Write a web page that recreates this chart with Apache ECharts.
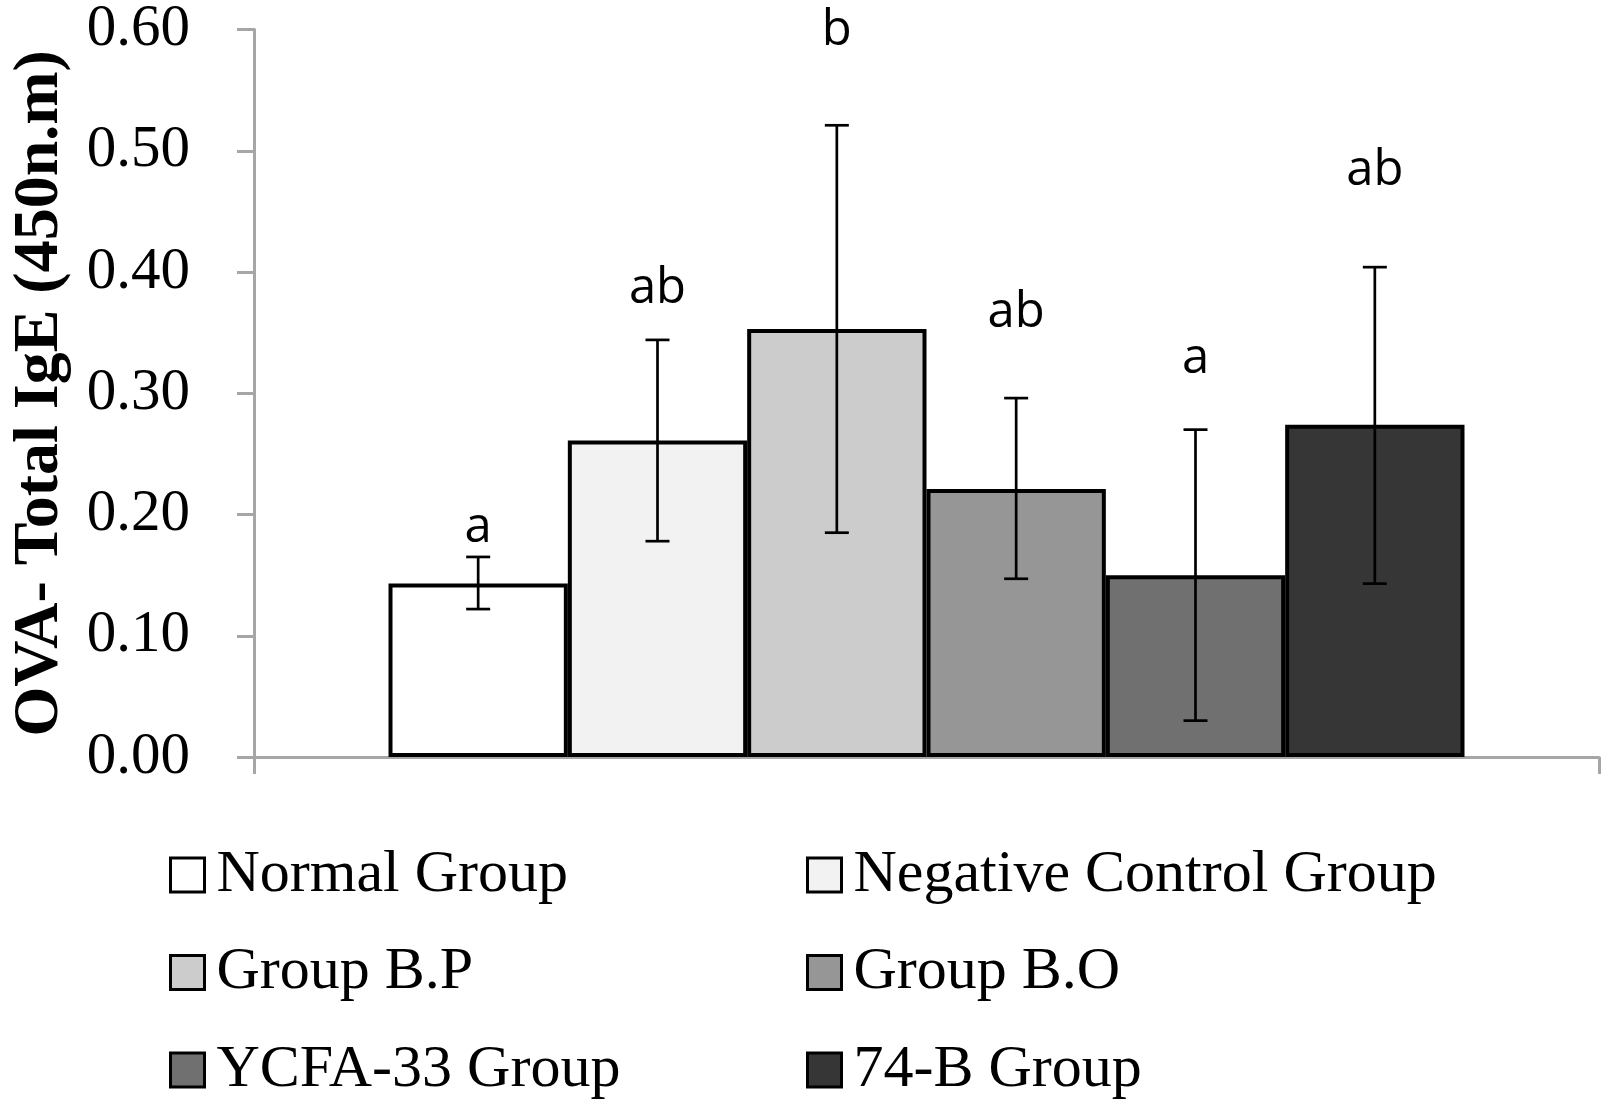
<!DOCTYPE html>
<html>
<head>
<meta charset="utf-8">
<title>OVA- Total IgE</title>
<script src="https://cdn.jsdelivr.net/npm/echarts@6/dist/echarts.min.js"></script>
<style>
  html, body { margin: 0; padding: 0; background: #fff; }
  #main { width: 1605px; height: 1106px; }
</style>
</head>
<body>
<div id="main"></div>
<script>
// groups, one bar each
const groups = ['Normal Group', 'Negative Control Group', 'Group B.P', 'Group B.O', 'YCFA-33 Group', '74-B Group'];
const means = [0.143, 0.261, 0.353, 0.221, 0.150, 0.274];
const errLow = [0.122, 0.178, 0.185, 0.147, 0.030, 0.143];
const errHigh = [0.165, 0.344, 0.521, 0.296, 0.270, 0.404];
// significance letters and the height of their baseline
const letters = ['a', 'ab', 'b', 'ab', 'a', 'ab'];
const letterY = [0.175, 0.372, 0.585, 0.352, 0.314, 0.469];
const fills = ['#ffffff', '#f2f2f2', '#cccccc', '#969696', '#707070', '#363636'];
const yTicks = [0, 0.1, 0.2, 0.3, 0.4, 0.5, 0.6];

const chart = echarts.init(document.getElementById('main'));
const serif = 'Liberation Serif';
const axisGray = '#a6a6a6';

const barSeries = groups.map(function (name, i) {
  return {
    name: name,
    type: 'bar',
    data: [means[i]],
    barGap: '0%',
    barCategoryGap: '20%',
    itemStyle: { color: fills[i], borderColor: '#000', borderWidth: 4 },
    emphasis: { disabled: true },
    z: 2
  };
});

// error bars + letters, placed over each bar of the single category
const errSeries = {
  type: 'custom',
  z: 5,
  silent: true,
  encode: { x: 0, y: [1, 2] },
  data: groups.map(function (g, i) { return [0, errLow[i], errHigh[i], letterY[i]]; }),
  renderItem: function (params, api) {
    const i = params.dataIndex;
    const lo = api.coord([0, api.value(1)]);
    const hi = api.coord([0, api.value(2)]);
    const lab = api.coord([0, api.value(3)]);
    const band = api.size([1, 0])[0];
    const barW = band * 0.8 / groups.length;
    const x = lo[0] - band * 0.4 + (i + 0.5) * barW;
    const cap = 12;
    const st = { stroke: '#000', lineWidth: 2.7 };
    return {
      type: 'group',
      children: [
        { type: 'line', shape: { x1: x, y1: lo[1], x2: x, y2: hi[1] }, style: st },
        { type: 'line', shape: { x1: x - cap, y1: lo[1], x2: x + cap, y2: lo[1] }, style: st },
        { type: 'line', shape: { x1: x - cap, y1: hi[1], x2: x + cap, y2: hi[1] }, style: st },
        {
          type: 'text',
          style: {
            text: letters[i], x: x, y: lab[1] - 17,
            align: 'center', verticalAlign: 'middle',
            fill: '#000', font: '49px "Open Sans"'
          }
        }
      ]
    };
  }
};

const legendText = { fontFamily: serif, fontSize: 60, lineHeight: 60, color: '#000', padding: [0, 0, 0, 7] };

function legendCol(names, left) {
  return {
    data: names,
    orient: 'vertical', left: left, top: 845, height: 261,
    padding: 0,
    itemWidth: 34, itemHeight: 34, itemGap: 37.5,
    icon: 'rect', itemStyle: { borderWidth: 3 },
    textStyle: legendText, selectedMode: false
  };
}

const option = {
  animation: false,
  backgroundColor: '#fff',
  grid: { left: 248, right: 6, top: 25, bottom: 349 },
  legend: [
    legendCol([groups[0], groups[2], groups[4]], 169),
    legendCol([groups[1], groups[3], groups[5]], 806)
  ],
  xAxis: {
    type: 'category',
    data: [''],
    axisLine: { lineStyle: { color: axisGray, width: 3 } },
    axisTick: { show: true, length: 17, lineStyle: { color: axisGray, width: 3 } },
    axisLabel: { show: false }
  },
  yAxis: {
    type: 'value',
    min: yTicks[0],
    max: yTicks[yTicks.length - 1],
    interval: 0.1,
    name: 'OVA- Total IgE (450n.m)',
    nameLocation: 'middle',
    nameGap: 182,
    nameTextStyle: { fontFamily: serif, fontWeight: 'bold', fontSize: 64, color: '#000' },
    axisLine: { show: true, lineStyle: { color: axisGray, width: 3 } },
    axisTick: { show: true, length: 17, lineStyle: { color: axisGray, width: 3 } },
    splitLine: { show: false },
    axisLabel: {
      margin: 64,
      fontFamily: serif, fontSize: 59, color: '#000',
      formatter: function (v) { return v.toFixed(2); }
    }
  },
  series: barSeries.concat([errSeries])
};

chart.setOption(option);
</script>
</body>
</html>
